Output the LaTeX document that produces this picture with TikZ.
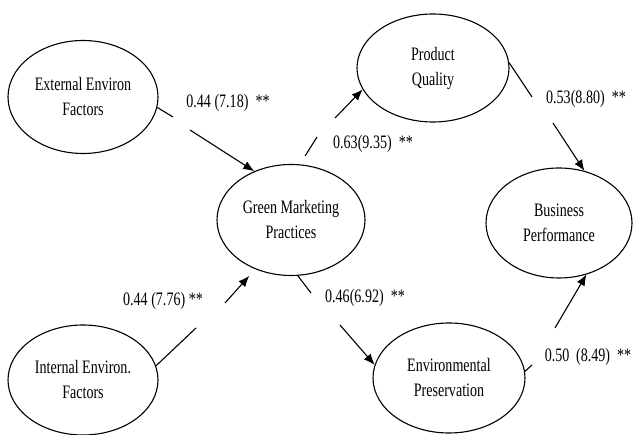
\documentclass[tikz,border=0pt]{standalone}
\usepackage{fontspec}
\setmainfont[FakeStretch=0.74]{Liberation Serif}
\usetikzlibrary{shapes.geometric,arrows.meta}
\begin{document}
\begin{tikzpicture}[x=1pt,y=-1pt,
  lv/.style={draw=black,line width=1.1pt,ellipse,inner sep=0pt,align=center,
    font=\fontsize{19}{25}\selectfont},
  lbl/.style={inner sep=0pt,font=\fontsize{19}{25}\selectfont},
  ln/.style={line width=1.1pt},
  arr/.style={line width=1.1pt,-{Latex[length=11pt,width=9pt]}}]
\useasboundingbox (0,0) rectangle (633,435);
% latent variables
\node[lv,minimum width=150pt,minimum height=113pt] (ext) at (83,97) {External Environ\\Factors};
\node[lv,minimum width=150pt,minimum height=110pt] (int) at (83,380) {Internal Environ.\\Factors};
\node[lv,minimum width=148pt,minimum height=111pt] (gmp) at (291,220) {Green Marketing\\Practices};
\node[lv,minimum width=152pt,minimum height=108pt] (pq) at (433,68) {Product\\Quality};
\node[lv,minimum width=146pt,minimum height=110pt] (bp) at (559,223) {Business\\Performance};
\node[lv,minimum width=152pt,minimum height=110pt] (ep) at (449,378) {Environmental\\Preservation};
% gap coordinates
\coordinate (g1a) at (173,117); \coordinate (g1b) at (190,130);
\coordinate (g2a) at (317,137); \coordinate (g2b) at (335,118);
\coordinate (g3a) at (532,97);  \coordinate (g3b) at (553,123);
\coordinate (g4a) at (311,293); \coordinate (g4b) at (340,325);
\coordinate (g5a) at (196,328); \coordinate (g5b) at (225,303);
\coordinate (g6a) at (532,365); \coordinate (g6b) at (555,328);
% connectors
\draw[ln] (ext.-8) -- (g1a);
\draw[arr] (g1b) -- (gmp.127);
\draw[ln,shorten <=10pt] (gmp.81) -- (g2a);
\draw[arr] (g2b) -- (pq.197);
\draw[ln] (pq.4) -- (g3a);
\draw[arr] (g3b) -- (bp.64);
\draw[ln] (gmp.-83) -- (g4a);
\draw[arr] (g4b) -- (ep.170);
\draw[ln] (int.11) -- (g5a);
\draw[arr,shorten >=9pt] (g5b) -- (gmp.-126);
\draw[ln] (ep.5) -- (g6a);
\draw[arr] (g6b) -- (bp.-62);
% labels
\node[lbl] (l1) at (228,103) {0.44 (7.18) \ **};
\node[lbl] (l2) at (373,144) {0.63(9.35) \ **};
\node[lbl] (l3) at (586,99) {0.53(8.80) \ **};
\node[lbl] (l4) at (365,298) {0.46(6.92) \ **};
\node[lbl] (l5) at (163,301) {0.44 (7.76) **};
\node[lbl] (l6) at (588,357) {0.50 \,(8.49) \ **};
\end{tikzpicture}
\end{document}
